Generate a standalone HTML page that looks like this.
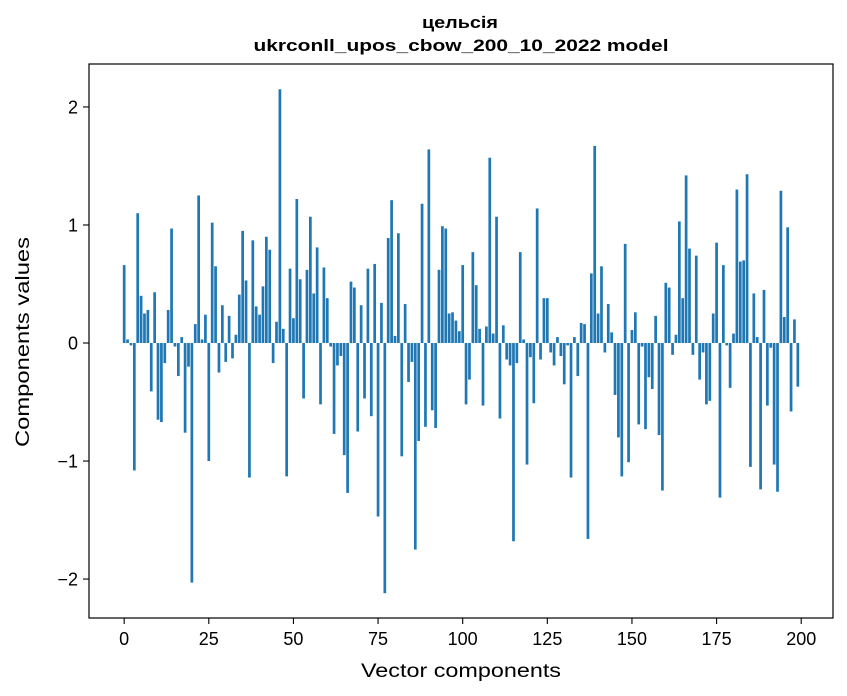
<!DOCTYPE html>
<html><head><meta charset="utf-8">
<style>
html,body{margin:0;padding:0;background:#fff;}
svg{display:block;font-family:"Liberation Sans","DejaVu Sans",sans-serif;}
</style></head>
<body>
<svg id="chart" width="847" height="696" viewBox="0 0 847 696" xmlns="http://www.w3.org/2000/svg">
<rect x="0" y="0" width="847" height="696" fill="#fff"/>
<text x="460" y="28" text-anchor="middle" font-weight="bold" font-size="17" textLength="76" lengthAdjust="spacingAndGlyphs">цельсія</text>
<text x="461" y="51" text-anchor="middle" font-weight="bold" font-size="17" textLength="415" lengthAdjust="spacingAndGlyphs">ukrconll_upos_cbow_200_10_2022 model</text>
<g id="bars"></g>
<g id="xticks"></g>
<g id="yticks"></g>
<rect x="89" y="64" width="744" height="554" fill="none" stroke="#000" stroke-width="1.2"/>
<text x="461" y="677" text-anchor="middle" font-size="19" textLength="200" lengthAdjust="spacingAndGlyphs">Vector components</text>
<text transform="translate(29,342) rotate(-90)" text-anchor="middle" font-size="19" textLength="210" lengthAdjust="spacingAndGlyphs">Components values</text>
</svg>
<script>
const values = [0.66,0.03,-0.02,-1.08,1.10,0.40,0.25,0.28,-0.41,0.43,
-0.65,-0.67,-0.17,0.28,0.97,-0.03,-0.28,0.05,-0.76,-0.20,
-2.03,0.16,1.25,0.03,0.24,-1.00,1.02,0.65,-0.25,0.32,
-0.16,0.23,-0.13,0.07,0.41,0.95,0.53,-1.14,0.87,0.31,
0.24,0.48,0.90,0.79,-0.17,0.18,2.15,0.12,-1.13,0.63,
0.21,1.22,0.54,-0.47,0.62,1.07,0.42,0.81,-0.52,0.64,
0.38,-0.03,-0.77,-0.19,-0.11,-0.95,-1.27,0.52,0.47,-0.75,
0.32,-0.47,0.63,-0.62,0.67,-1.47,0.34,-2.12,0.89,1.21,
0.06,0.93,-0.96,0.33,-0.33,-0.16,-1.75,-0.83,1.18,-0.71,
1.64,-0.57,-0.72,0.62,0.99,0.97,0.25,0.26,0.19,0.10,
0.66,-0.52,-0.31,0.77,0.49,0.12,-0.53,0.14,1.57,0.08,
1.07,-0.64,0.15,-0.14,-0.19,-1.68,-0.17,0.77,0.03,-1.03,
-0.12,-0.51,1.14,-0.14,0.38,0.38,-0.08,-0.19,0.05,-0.11,
-0.35,-0.02,-1.14,0.05,-0.28,0.17,0.16,-1.66,0.59,1.67,
0.25,0.65,-0.08,0.33,0.09,-0.44,-0.80,-1.13,0.84,-1.01,
0.11,0.26,-0.69,-0.03,-0.73,-0.29,-0.39,0.23,-0.78,-1.25,
0.51,0.47,-0.10,0.07,1.03,0.38,1.42,0.80,-0.10,0.74,
-0.31,-0.08,-0.52,-0.49,0.25,0.85,-1.31,0.66,-0.02,-0.38,
0.08,1.30,0.69,0.70,1.43,-1.05,0.42,0.05,-1.24,0.45,
-0.53,-0.04,-1.03,-1.26,1.29,0.22,0.98,-0.58,0.20,-0.37];
const xTickValues = [0,25,50,75,100,125,150,175,200];
const yTickValues = [-2,-1,0,1,2];
const yTickLabels = ["\u22122","\u22121","0","1","2"];

const NS = "http://www.w3.org/2000/svg";
const plot = {left:89, right:833, top:64, bottom:618};
const xMin = -10.39, xMax = 209.39, yMin = -2.33, yMax = 2.364;
function xScale(v){ return plot.left + (v - xMin) / (xMax - xMin) * (plot.right - plot.left); }
function yScale(v){ return plot.bottom - (v - yMin) / (yMax - yMin) * (plot.bottom - plot.top); }

const barsG = document.getElementById('bars');
values.forEach(function(v, i){
  const r = document.createElementNS(NS, 'rect');
  const x0 = xScale(i - 0.4), x1 = xScale(i + 0.4);
  const y0 = yScale(Math.max(v, 0)), y1 = yScale(Math.min(v, 0));
  r.setAttribute('x', x0);
  r.setAttribute('width', x1 - x0);
  r.setAttribute('y', y0);
  r.setAttribute('height', Math.max(y1 - y0, 0.01));
  r.setAttribute('fill', '#1f77b4');
  
  
  barsG.appendChild(r);
});

const xg = document.getElementById('xticks');
xTickValues.forEach(function(t){
  const x = xScale(t);
  const l = document.createElementNS(NS, 'line');
  l.setAttribute('x1', x); l.setAttribute('x2', x);
  l.setAttribute('y1', plot.bottom); l.setAttribute('y2', plot.bottom + 6);
  l.setAttribute('stroke', '#000'); l.setAttribute('stroke-width', '1.1');
  
  
  xg.appendChild(l);
  const tx = document.createElementNS(NS, 'text');
  tx.setAttribute('x', x); tx.setAttribute('y', plot.bottom + 27);
  tx.setAttribute('text-anchor', 'middle'); tx.setAttribute('font-size', '18');
  tx.textContent = String(t);
  
  
  xg.appendChild(tx);
});

const yg = document.getElementById('yticks');
yTickValues.forEach(function(t, k){
  const y = yScale(t);
  const l = document.createElementNS(NS, 'line');
  l.setAttribute('x1', plot.left - 6); l.setAttribute('x2', plot.left);
  l.setAttribute('y1', y); l.setAttribute('y2', y);
  l.setAttribute('stroke', '#000'); l.setAttribute('stroke-width', '1.1');
  
  
  yg.appendChild(l);
  const tx = document.createElementNS(NS, 'text');
  tx.setAttribute('x', plot.left - 11); tx.setAttribute('y', y + 6.5);
  tx.setAttribute('text-anchor', 'end'); tx.setAttribute('font-size', '18');
  tx.textContent = yTickLabels[k];
  
  
  yg.appendChild(tx);
});
</script>
</body></html>
